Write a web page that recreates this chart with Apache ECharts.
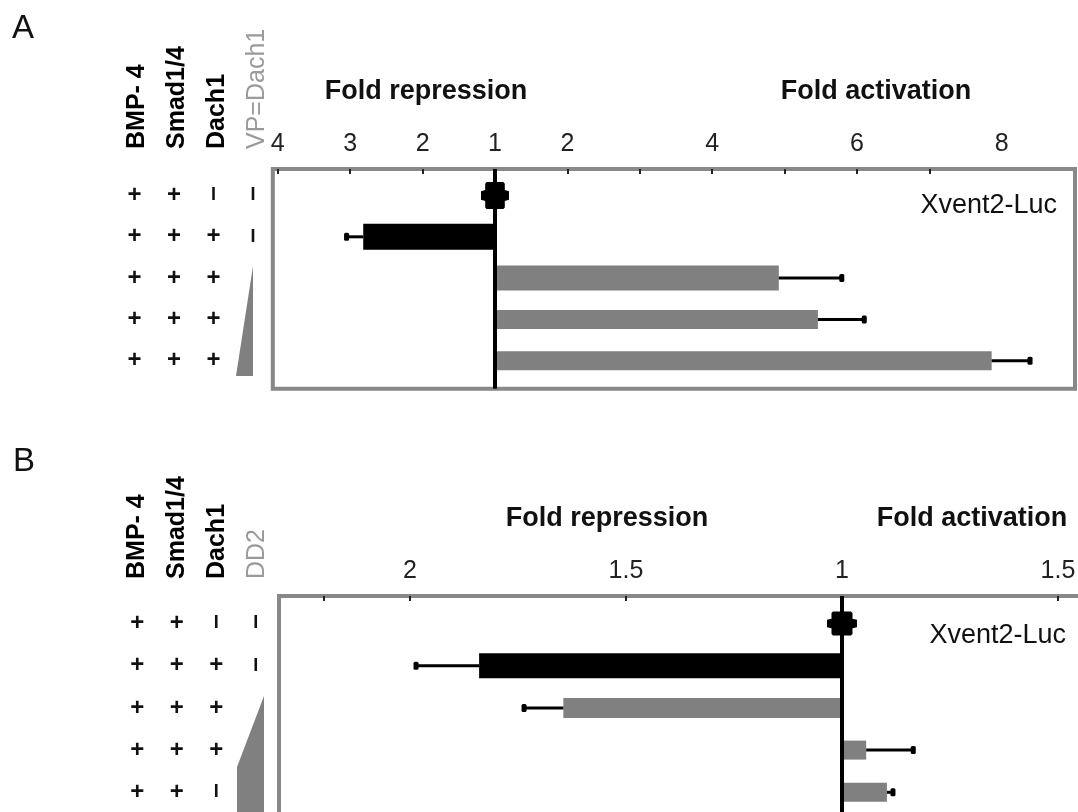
<!DOCTYPE html>
<html>
<head>
<meta charset="utf-8">
<title>Xvent2-Luc fold repression / activation</title>
<script src="https://cdn.jsdelivr.net/npm/echarts@6/dist/echarts.min.js"></script>
<style>
html, body { margin: 0; padding: 0; background: #fff; }
#chart { width: 1078px; height: 812px; }
</style>
</head>
<body>
<div id="chart"></div>
<script>
// ---- panel A : VP=Dach1 dose ----
const rowsA = [0, 1, 2, 3, 4];
const foldA = [1, 2.82, 4.92, 5.46, 7.86];
const errA = [0, 0.23, 0.87, 0.64, 0.53];
const modeA = ["ref", "repression", "activation", "activation", "activation"];
const headersA = ["BMP- 4", "Smad1/4", "Dach1", "VP=Dach1"];
const tableA = [
	["+", "+", "-", "-"],
	["+", "+", "+", "-"],
	["+", "+", "+", ""],
	["+", "+", "+", ""],
	["+", "+", "+", ""],
];
const repLabelsA = [4, 3, 2];
const actLabelsA = [2, 4, 6, 8];
const repTicksA = [4, 3, 2];
const actTicksA = [2, 3, 4, 5, 6, 7];

// ---- panel B : DD2 dose ----
const rowsB = [0, 1, 2, 3, 4];
const foldB = [1, 1.84, 1.645, 1.056, 1.104];
const errB = [0, 0.146, 0.091, 0.109, 0.014];
const modeB = ["ref", "repression", "repression", "activation", "activation"];
const headersB = ["BMP- 4", "Smad1/4", "Dach1", "DD2"];
const tableB = [
	["+", "+", "-", "-"],
	["+", "+", "+", "-"],
	["+", "+", "+", ""],
	["+", "+", "+", ""],
	["+", "+", "-", ""],
];
const repLabelsB = [2, 1.5];
const actLabelsB = [1.5];
const repTicksB = [2.2, 2, 1.5];
const actTicksB = [1.5];

const reporter = "Xvent2-Luc";

// ---- styles ----
const FONT = '"Liberation Sans", Arial, Helvetica, sans-serif';
const GREY = "#808080";
const thickA = [0, 26, 25, 19, 19];
const colorA = ["#000", "#000", GREY, GREY, GREY];
const thickB = [0, 25, 20, 19, 19];
const colorB = ["#000", "#000", GREY, GREY, GREY];
const crossPath = "path://M20,0 L80,0 L85,6 L85,30 L100,34 L100,66 L85,70 L85,94 L80,100 L20,100 L15,94 L15,70 L0,66 L0,34 L15,30 L15,6 Z";

// fold value -> signed axis position (1 = no change)
function toAxis(fold, mode) {
	return mode === "repression" ? -(fold - 1) : fold - 1;
}
function foldLabel(v) {
	return String(Math.round((1 + Math.abs(v)) * 100) / 100);
}
function tickValues(rep, act, withRef) {
	const out = rep.map((f) => toAxis(f, "repression"));
	if (withRef) out.push(0);
	return out.concat(act.map((f) => toAxis(f, "activation")));
}
function tableRow(row) {
	return row.map((s) => (s === "+" ? "{p|+}" : s === "-" ? "{m|I}" : "{e| }")).join("");
}
const richCells = {
	p: { width: 39.5, align: "center", verticalAlign: "middle", fontSize: 24, fontWeight: "bold", color: "#111", fontFamily: FONT, lineHeight: 26 },
	m: { width: 39.5, align: "center", verticalAlign: "middle", fontSize: 18, fontWeight: "bold", color: "#111", fontFamily: FONT, lineHeight: 26 },
	e: { width: 39.5, align: "center", verticalAlign: "middle", fontSize: 17, lineHeight: 26 },
};

function barRenderer(thick, color) {
	return function (params, api) {
		const v = api.value(0);
		const row = api.value(1);
		const err = api.value(2);
		if (v === 0) return { type: "group", children: [] };
		const base = api.coord([0, row]);
		const end = api.coord([v, row]);
		const dir = v < 0 ? -1 : 1;
		const tip = api.coord([v + dir * err, row]);
		const t = thick[params.dataIndex];
		return {
			type: "group",
			children: [
				{
					type: "rect",
					shape: { x: Math.min(base[0], end[0]), y: base[1] - t / 2, width: Math.abs(end[0] - base[0]), height: t },
					style: { fill: color[params.dataIndex] },
				},
				{
					type: "line",
					shape: { x1: end[0], y1: end[1], x2: tip[0], y2: tip[1] },
					style: { stroke: "#000", lineWidth: 3 },
				},
				{
					type: "rect",
					shape: { x: tip[0] - 2.5, y: tip[1] - 4, width: 5, height: 8, r: 1.5 },
					style: { fill: "#000" },
				},
			],
		};
	};
}

function xAxisFor(grid, min, max, labels, ticks) {
	return {
		gridIndex: grid,
		type: "value",
		position: "top",
		min: min,
		max: max,
		axisLine: { show: false, onZero: false },
		splitLine: { show: false },
		axisTick: { show: true, inside: true, length: 5, customValues: ticks, lineStyle: { color: "#222", width: 2 } },
		axisLabel: { customValues: labels, formatter: foldLabel, margin: 12, fontSize: 25, color: "#222", fontFamily: FONT },
	};
}
function yAxisFor(grid, min, max, rows, table, margin) {
	return {
		gridIndex: grid,
		type: "value",
		inverse: true,
		min: min,
		max: max,
		axisLine: { show: false, onZero: false },
		axisTick: { show: false },
		splitLine: { show: false },
		axisLabel: { customValues: rows, margin: margin, formatter: (v) => tableRow(table[v]), rich: richCells },
	};
}
function refSeries(xi, yi, fold, mode, rows, size) {
	const pts = [];
	rows.forEach((r, i) => {
		if (mode[i] === "ref") pts.push([toAxis(fold[i], mode[i]), r]);
	});
	return {
		type: "scatter",
		xAxisIndex: xi,
		yAxisIndex: yi,
		z: 5,
		symbol: crossPath,
		symbolSize: size,
		itemStyle: { color: "#000", opacity: 1 },
		data: pts,
		markLine: {
			silent: true,
			symbol: ["none", "none"],
			label: { show: false },
			lineStyle: { color: "#000", width: 4, type: "solid", opacity: 1 },
			data: [{ xAxis: 0 }],
		},
	};
}
function barSeries(xi, yi, fold, mode, err, rows, thick, color) {
	return {
		type: "custom",
		xAxisIndex: xi,
		yAxisIndex: yi,
		z: 2,
		renderItem: barRenderer(thick, color),
		encode: { x: 0, y: 1 },
		data: rows.map((r, i) => [toAxis(fold[i], mode[i]), r, err[i]]),
	};
}

function headerTexts(headers, xs, bottom) {
	return headers.map((h, i) => ({
		type: "text",
		x: xs[i],
		y: bottom,
		rotation: Math.PI / 2,
		style: {
			text: h,
			fontSize: 25,
			fontWeight: i < 3 ? "bold" : "normal",
			fontFamily: FONT,
			fill: i < 3 ? "#000" : "#9a9a9a",
			align: "left",
			verticalAlign: "middle",
			textAlign: "left",
			textVerticalAlign: "middle",
		},
	}));
}
function label(text, x, y, size, weight, align) {
	return {
		type: "text",
		x: x,
		y: y,
		style: {
			text: text,
			fontSize: size,
			fontWeight: weight,
			fontFamily: FONT,
			fill: "#111",
			align: align,
			verticalAlign: "middle",
			textAlign: align,
			textVerticalAlign: "middle",
		},
	};
}

const chart = echarts.init(document.getElementById("chart"));
const option = {
	animation: false,
	backgroundColor: "#fff",
	grid: [
		{ left: 272.8, top: 169, width: 802.2, height: 219.7, show: true, borderColor: "#888", borderWidth: 4, backgroundColor: "transparent", outerBoundsMode: "none", containLabel: false },
		{ left: 279, top: 596, width: 819, height: 236, show: true, borderColor: "#888", borderWidth: 4, backgroundColor: "transparent", outerBoundsMode: "none", containLabel: false },
	],
	xAxis: [
		xAxisFor(0, -3.069, 8.011, tickValues(repLabelsA, actLabelsA, true), tickValues(repTicksA, actTicksA, false)),
		xAxisFor(1, -1.3032, 0.5926, tickValues(repLabelsB, actLabelsB, true), tickValues(repTicksB, actTicksB, false)),
	],
	yAxis: [yAxisFor(0, -0.642, 4.678, rowsA, tableA, 0), yAxisFor(1, -0.652, 4.941, rowsB, tableB, 3.5)],
	series: [
		barSeries(0, 0, foldA, modeA, errA, rowsA, thickA, colorA),
		refSeries(0, 0, foldA, modeA, rowsA, [28, 27]),
		barSeries(1, 1, foldB, modeB, errB, rowsB, thickB, colorB),
		refSeries(1, 1, foldB, modeB, rowsB, [30, 24]),
	],
	graphic: [
		label("A", 23, 29, 33, "normal", "center"),
		label("B", 24, 462, 33, "normal", "center"),
		label("Fold repression", 426, 92, 27, "bold", "center"),
		label("Fold activation", 876, 92, 27, "bold", "center"),
		label("Fold repression", 607, 519, 27, "bold", "center"),
		label("Fold activation", 972, 519, 27, "bold", "center"),
		label(reporter, 1057, 206, 27, "normal", "right"),
		label(reporter, 1066, 636, 27, "normal", "right"),
		...headerTexts(headersA, [137, 177, 217, 257], 149),
		...headerTexts(headersB, [137, 177, 217, 257], 579),
		{ type: "polygon", shape: { points: [[253, 266], [253, 376], [236, 376]] }, style: { fill: GREY } },
		{ type: "polygon", shape: { points: [[264, 696], [264, 830], [237, 830], [237, 767]] }, style: { fill: GREY } },
	],
};
chart.setOption(option);
</script>
</body>
</html>
